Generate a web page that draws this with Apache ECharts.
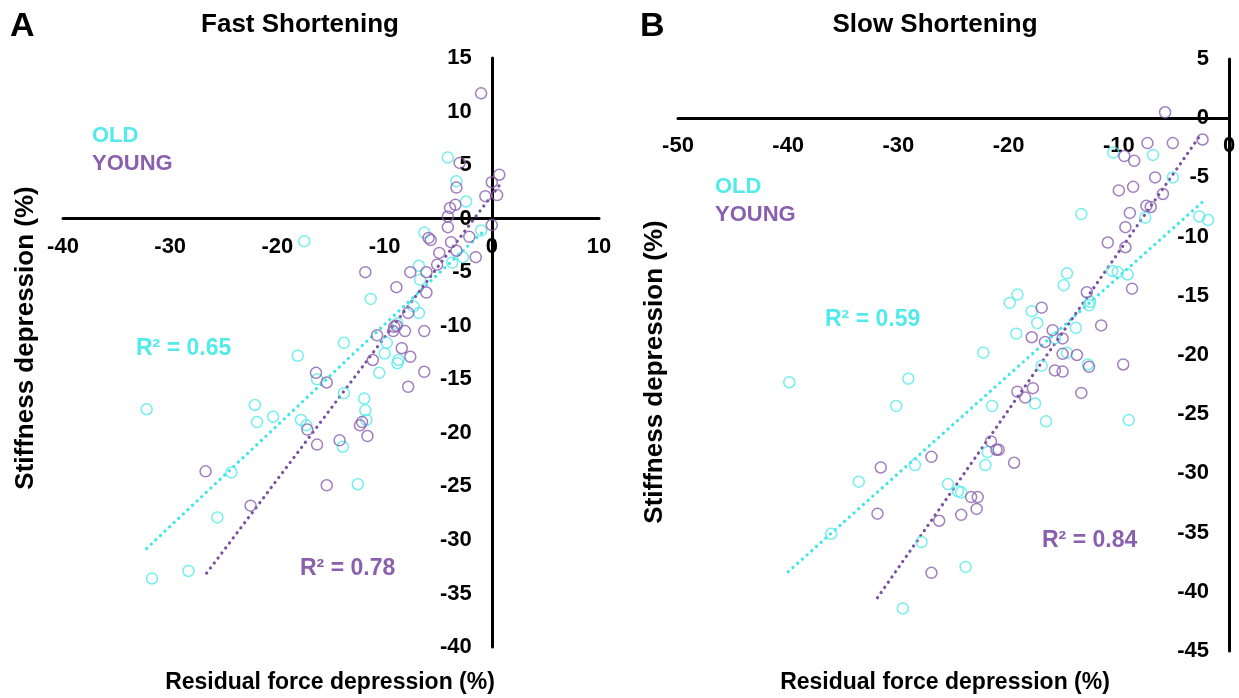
<!DOCTYPE html>
<html>
<head>
<meta charset="utf-8">
<script src="https://cdn.jsdelivr.net/npm/echarts@6/dist/echarts.min.js"></script>
<style>
html,body{margin:0;padding:0;background:#fff;}
#c{width:1239px;height:698px;}
</style>
</head>
<body>
<div id="c"></div>
<script>
// ---------- DATA ----------
// Panel A: Fast Shortening  [residual force depression %, stiffness depression %]
const fastOld = [
  [-17.5,-2.1],[-4.1,5.7],[-3.3,3.5],[-2.4,1.6],[-1.0,-1.1],[-6.3,-1.3],[-6.8,-4.4],[-6.7,-5.7],
  [-2.7,-3.6],[-3.7,-4.1],[-11.3,-7.5],[-7.3,-8.2],[-6.8,-8.8],[-8.8,-9.8],[-9.8,-11.6],[-13.8,-11.6],
  [-10.0,-12.6],[-8.7,-13.2],[-8.8,-13.5],[-10.5,-14.4],[-13.8,-16.3],[-11.9,-16.8],[-11.8,-17.9],
  [-11.7,-18.8],[-13.9,-21.3],[-18.1,-12.8],[-32.2,-17.8],[-22.1,-17.4],[-21.9,-19.0],[-20.4,-18.5],
  [-17.8,-18.8],[-17.3,-19.3],[-16.3,-15.0],[-12.5,-24.8],[-24.3,-23.7],[-25.6,-27.9],[-28.3,-32.9],
  [-31.7,-33.6]
];
const fastYoung = [
  [-1.0,11.7],[-3.0,5.2],[-3.3,2.9],[-3.4,1.3],[-3.9,1.0],[-4.1,0.2],[-4.1,-0.8],[0,3.4],[0.7,4.1],
  [-0.6,2.1],[0.5,2.2],[0,-0.6],[-2.1,-1.7],[-1.5,-3.6],[-3.8,-2.2],[-3.3,-3.0],[-4.9,-3.2],[-5.1,-4.3],
  [-5.9,-1.8],[-5.7,-2.0],[-7.6,-5.0],[-6.1,-5.0],[-11.8,-5.0],[-8.9,-6.4],[-6.1,-6.9],[-7.8,-8.8],
  [-9.1,-10.1],[-8.9,-10.0],[-9.2,-10.5],[-8.1,-10.5],[-6.3,-10.5],[-10.7,-10.9],[-8.4,-12.1],
  [-7.6,-12.9],[-11.1,-13.2],[-6.3,-14.3],[-7.8,-15.7],[-15.4,-15.3],[-16.4,-14.4],[-17.2,-19.7],
  [-16.3,-21.1],[-14.2,-20.7],[-12.1,-19.0],[-12.3,-19.3],[-11.6,-20.3],[-26.7,-23.6],[-22.5,-26.8],
  [-15.4,-24.9]
];
const fastOldTrend = [[-32.2,-30.8],[-0.9,-1.3]];
const fastYoungTrend = [[-26.6,-33.1],[0.7,3.1]];

// Panel B: Slow Shortening
const slowOld = [
  [-10.5,-2.9],[-6.9,-3.1],[-5.1,-5.0],[-13.4,-8.1],[-7.6,-8.4],[-2.7,-8.3],[-1.9,-8.6],[-10.6,-12.9],
  [-10.1,-13.0],[-9.2,-13.2],[-14.7,-13.1],[-15.0,-14.1],[-12.6,-15.5],[-12.7,-15.8],[-19.2,-14.9],
  [-19.9,-15.6],[-17.9,-16.3],[-17.4,-17.3],[-13.9,-17.7],[-19.3,-18.2],[-15.8,-18.6],[-14.7,-19.8],
  [-12.8,-20.8],[-17.0,-20.9],[-17.6,-24.1],[-16.6,-25.6],[-9.1,-25.5],[-22.3,-19.8],[-39.9,-22.3],
  [-29.1,-22.0],[-30.2,-24.3],[-21.5,-24.3],[-21.9,-28.2],[-22.1,-29.3],[-28.5,-29.3],[-33.6,-30.7],
  [-25.5,-30.9],[-24.6,-31.5],[-24.3,-31.6],[-36.1,-35.1],[-27.9,-35.8],[-23.9,-37.9],[-29.6,-41.4]
];
const slowYoung = [
  [-5.8,0.5],[-7.4,-2.1],[-5.1,-2.1],[-2.4,-1.8],[-9.5,-3.2],[-8.6,-3.6],[-6.7,-5.0],[-6.0,-6.4],
  [-10.0,-6.1],[-8.7,-5.8],[-7.5,-7.4],[-7.1,-7.5],[-9.0,-8.0],[-9.4,-9.2],[-11.0,-10.5],[-9.4,-10.9],
  [-8.8,-14.4],[-12.9,-14.7],[-17.0,-16.0],[-11.6,-17.5],[-17.9,-18.5],[-16.0,-17.9],[-15.1,-18.6],
  [-16.7,-18.9],[-15.1,-19.9],[-13.8,-20.0],[-12.7,-21.0],[-9.6,-20.8],[-15.8,-21.3],[-15.1,-21.4],
  [-19.2,-23.1],[-18.5,-23.6],[-17.8,-22.8],[-13.4,-23.2],[-20.9,-28.0],[-19.5,-29.1],[-21.6,-27.3],
  [-21.1,-28.0],[-27.0,-28.6],[-31.6,-29.5],[-23.4,-32.0],[-22.8,-32.0],[-22.9,-33.0],[-24.3,-33.5],
  [-26.3,-34.0],[-31.9,-33.4],[-27.0,-38.4]
];
const slowOldTrend = [[-40.0,-38.3],[-2.2,-6.9]];
const slowYoungTrend = [[-31.9,-40.5],[-2.5,-1.3]];

const fastXTicks = {min:-40, max:10, interval:10};
const fastYTicks = {min:-40, max:15, interval:5};
const slowXTicks = {min:-50, max:0, interval:10};
const slowYTicks = {min:-45, max:5, interval:5};

const r2 = {fastOld:'R² = 0.65', fastYoung:'R² = 0.78', slowOld:'R² = 0.59', slowYoung:'R² = 0.84'};

// ---------- STYLE / LAYOUT ----------
const CYAN = '#52EAEA';
const PURPLE = '#8A5FAE';
const FONT = '"Liberation Sans", Arial, sans-serif';
const gridA = {left:63, top:58, width:536, height:589};
const gridB = {left:678, top:59, width:551, height:592};

// offsets that put each axis on the other axis's zero
function xOff(g, t){ return -g.height * (0 - t.min) / (t.max - t.min); }
function yOff(g, t){ return -g.width * (0 - t.min) / (t.max - t.min); }

const chart = echarts.init(document.getElementById('c'), null, {renderer:'canvas'});

const labelStyle = {color:'#000', fontSize:22, fontWeight:'bold', fontFamily:FONT};
function xAx(gi, t, off){
  return {gridIndex:gi, type:'value', position:'bottom', offset:off, min:t.min, max:t.max, interval:t.interval,
    axisLine:{onZero:false, lineStyle:{color:'#000', width:3}},
    axisTick:{show:false}, splitLine:{show:false},
    axisLabel:Object.assign({margin:17}, labelStyle)};
}
function yAx(gi, t, pos, off, inside){
  return {gridIndex:gi, type:'value', position:pos, offset:off, min:t.min, max:t.max, interval:t.interval,
    axisLine:{onZero:false, lineStyle:{color:'#000', width:3}},
    axisTick:{show:false}, splitLine:{show:false},
    axisLabel:Object.assign({margin:20, inside:inside}, labelStyle)};
}
function pts(idx, data, color){
  return {type:'scatter', xAxisIndex:idx, yAxisIndex:idx, data:data, symbol:'circle', symbolSize:11,
    itemStyle:{color:'rgba(255,255,255,0)', borderColor:color, borderWidth:1.5}, z:3, silent:true};
}
function trend(idx, data, color){
  return {type:'line', xAxisIndex:idx, yAxisIndex:idx, data:data, symbol:'none', z:2, silent:true,
    lineStyle:{color:color, width:3.2, type:[0.1,6.2], cap:'round'}};
}
function txt(x, y, s, color, size, align, rot){
  return {type:'text', x:x, y:y, rotation:rot||0, z:10,
    style:{text:s, fill:color, fontSize:size, fontWeight:'bold', fontFamily:FONT,
      align:align||'left', verticalAlign:'middle'}};
}

chart.setOption({
  animation:false,
  backgroundColor:'#fff',
  grid:[gridA, gridB],
  xAxis:[xAx(0, fastXTicks, xOff(gridA, fastYTicks)), xAx(1, slowXTicks, xOff(gridB, slowYTicks))],
  yAxis:[yAx(0, fastYTicks, 'left', yOff(gridA, fastXTicks), false), yAx(1, slowYTicks, 'right', 0, true)],
  series:[
    trend(0, fastOldTrend, '#3FE6E6'),
    trend(0, fastYoungTrend, '#7A50A0'),
    pts(0, fastOld, CYAN),
    pts(0, fastYoung, PURPLE),
    trend(1, slowOldTrend, '#3FE6E6'),
    trend(1, slowYoungTrend, '#7A50A0'),
    pts(1, slowOld, CYAN),
    pts(1, slowYoung, PURPLE)
  ],
  graphic:[
    txt(10, 27, 'A', '#000', 34, 'left'),
    txt(300, 25, 'Fast Shortening', '#000', 26, 'center'),
    txt(640, 27, 'B', '#000', 34, 'left'),
    txt(935, 25, 'Slow Shortening', '#000', 26, 'center'),
    txt(92, 136, 'OLD', CYAN, 22, 'left'),
    txt(92, 164, 'YOUNG', PURPLE, 22, 'left'),
    txt(715, 187, 'OLD', CYAN, 22, 'left'),
    txt(715, 215, 'YOUNG', PURPLE, 22, 'left'),
    txt(136, 349, r2.fastOld, CYAN, 23, 'left'),
    txt(300, 569, r2.fastYoung, PURPLE, 23, 'left'),
    txt(825, 320, r2.slowOld, CYAN, 23, 'left'),
    txt(1042, 541, r2.slowYoung, PURPLE, 23, 'left'),
    txt(26, 338, 'Stiffness depression (%)', '#000', 26, 'center', Math.PI/2),
    txt(655, 372, 'Stiffness depression (%)', '#000', 26, 'center', Math.PI/2),
    txt(330, 683, 'Residual force depression (%)', '#000', 23, 'center'),
    txt(945, 683, 'Residual force depression (%)', '#000', 23, 'center')
  ]
});
</script>
</body>
</html>
